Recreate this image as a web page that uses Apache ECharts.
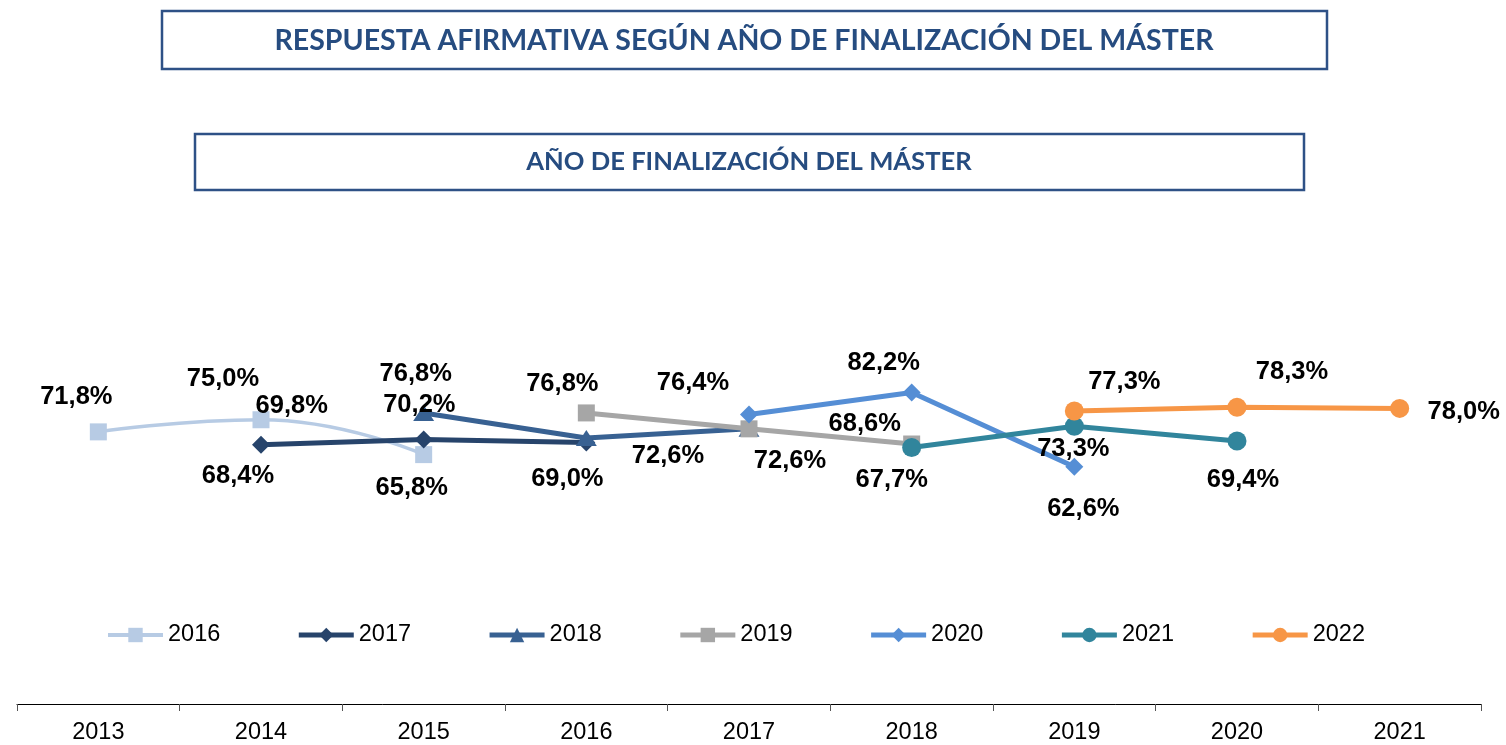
<!DOCTYPE html>
<html>
<head>
<meta charset="utf-8">
<title>Respuesta afirmativa según año de finalización del máster</title>
<script src="https://cdn.jsdelivr.net/npm/echarts@6/dist/echarts.min.js"></script>
<style>
  html, body { margin: 0; padding: 0; background: #fff; }
  #chart { width: 1506px; height: 745px; }
</style>
</head>
<body>
<div id="chart"></div>
<script>
// categorías del eje X
const categories = ['2013', '2014', '2015', '2016', '2017', '2018', '2019', '2020', '2021'];
const seriesNames = ['2016', '2017', '2018', '2019', '2020', '2021', '2022'];

// valores (%) por serie, alineados con categories
const v2016 = [71.8, 75.0, 65.8, null, null, null, null, null, null];
const v2017 = [null, 68.4, 69.8, 69.0, null, null, null, null, null];
const v2018 = [null, null, 76.8, 70.2, 72.6, null, null, null, null];
const v2019 = [null, null, null, 76.8, 72.6, 68.6, null, null, null];
const v2020 = [null, null, null, null, 76.4, 82.2, 62.6, null, null];
const v2021 = [null, null, null, null, null, 67.7, 73.3, 69.4, null];
const v2022 = [null, null, null, null, null, null, 77.3, 78.3, 78.0];
const values = [v2016, v2017, v2018, v2019, v2020, v2021, v2022];

// estilo de cada serie
const colors = ['#B7CBE4', '#27446B', '#386192', '#A6A6A6', '#558ED5', '#31859C', '#F79646'];
const symbols = ['rect', 'diamond', 'triangle', 'rect', 'diamond', 'circle', 'circle'];
const symbolSizes = [17, 18, [21, 16], 17, 18, 19, 19];
const lineWidths = [3.5, 5, 5, 5, 5, 5, 5];

// desplazamiento de etiquetas (dx, dy) respecto al punto
const labelOffsets = [
  [[-22, -35], [-38, -41], [-12, 33]],
  [[-23, 31], [-132, -33], [-19, 36]],
  [[-8, -39], [-167, -33], [-81, 27]],
  [[-24, -29], [41, 32], [-47, -20]],
  [[-56, -31], [-28, -29], [9, 42]],
  [[-20, 33], [-1, 23], [6, 39]],
  [[50, -29], [55, -35], [64, 4]],
];

const fmt = (v) => v.toFixed(1).replace('.', ',') + '%';
const sansFont = '"Liberation Sans", Arial, sans-serif';
const titleColor = '#264C80';

const chart = echarts.init(document.getElementById('chart'));

const series = seriesNames.map((name, s) => {
  let k = 0;
  const data = values[s].map((v) => {
    if (v == null) return '-';
    const off = labelOffsets[s][k++];
    return { value: v, label: { offset: off } };
  });
  return {
    name: name,
    type: 'line',
    smooth: s === 0,
    symbol: symbols[s],
    symbolSize: symbolSizes[s],
    showAllSymbol: true,
    itemStyle: { color: colors[s] },
    lineStyle: { color: colors[s], width: lineWidths[s] },
    label: {
      show: true,
      position: 'inside',
      formatter: (p) => fmt(p.value),
      color: '#000',
      fontSize: 25.5,
      fontWeight: 'bold',
      fontFamily: sansFont,
    },
    emphasis: { disabled: true },
    data: data,
  };
});

const option = {
  animation: false,
  backgroundColor: '#fff',
  graphic: [
    {
      type: 'rect',
      shape: { x: 162, y: 11, width: 1165, height: 58 },
      style: { fill: '#fff', stroke: '#2E5186', lineWidth: 2.5 },
    },
    {
      type: 'text',
      style: {
        x: 744, y: 41,
        text: 'RESPUESTA AFIRMATIVA SEGÚN AÑO DE FINALIZACIÓN DEL MÁSTER',
        fill: titleColor,
        font: 'bold 28.5px Lato, "Open Sans", sans-serif',
        textAlign: 'center', textVerticalAlign: 'middle',
        align: 'center', verticalAlign: 'middle',
      },
    },
    {
      type: 'rect',
      shape: { x: 195, y: 134, width: 1109, height: 56 },
      style: { fill: '#fff', stroke: '#2E5186', lineWidth: 2.5 },
    },
    {
      type: 'text',
      style: {
        x: 749, y: 162,
        text: 'AÑO DE FINALIZACIÓN DEL MÁSTER',
        fill: titleColor,
        font: 'bold 25.6px Lato, "Open Sans", sans-serif',
        textAlign: 'center', textVerticalAlign: 'middle',
        align: 'center', verticalAlign: 'middle',
      },
    },
  ],
  legend: {
    data: seriesNames.map((name, s) => ({ name: name, lineStyle: { width: s === 0 ? 4 : 5 } })),
    left: 101,
    top: 618,
    itemWidth: 55,
    itemHeight: 18,
    itemGap: 76,
    textStyle: { color: '#000', fontSize: 23.5, fontFamily: sansFont },
  },
  grid: { left: 17, right: 25, top: 325, bottom: 40 },
  xAxis: {
    type: 'category',
    data: categories,
    boundaryGap: true,
    axisLine: { lineStyle: { color: '#000', width: 1 } },
    axisTick: { show: true, length: 7, lineStyle: { color: '#555' } },
    axisLabel: { color: '#000', fontSize: 23.5, fontFamily: sansFont, margin: 17 },
  },
  yAxis: {
    type: 'value',
    min: 0,
    max: 100,
    show: false,
    splitLine: { show: false },
  },
  series: series,
};

chart.setOption(option);
</script>
</body>
</html>
